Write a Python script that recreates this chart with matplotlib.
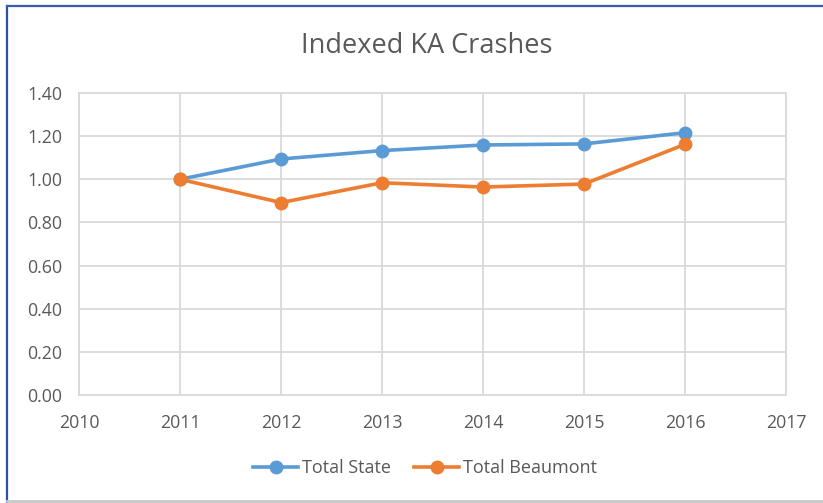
import matplotlib
matplotlib.use("Agg")
import matplotlib.pyplot as plt
from matplotlib.lines import Line2D

years = [2011, 2012, 2013, 2014, 2015, 2016]
total_state = [1.00, 1.094, 1.133, 1.159, 1.164, 1.216]
total_beaumont = [1.00, 0.892, 0.984, 0.964, 0.978, 1.162]
x_ticks = [2010, 2011, 2012, 2013, 2014, 2015, 2016, 2017]
y_ticks = [0.0, 0.2, 0.4, 0.6, 0.8, 1.0, 1.2, 1.4]

W, H = 823, 503
fig = plt.figure(figsize=(W / 100, H / 100), dpi=100)
plt.rcParams['font.family'] = ['Open Sans', 'DejaVu Sans']

left, right, top, bottom = 79, 786, 93, 395
ax = fig.add_axes([left / W, 1 - bottom / H, (right - left) / W, (bottom - top) / H])

txt = '#595959'
grid = '#d9d9d9'
ax.plot(years, total_state, color='#5B9BD5', lw=2.6, marker='o', ms=9, label='Total State', zorder=3)
ax.plot(years, total_beaumont, color='#ED7D31', lw=2.6, marker='o', ms=9, label='Total Beaumont', zorder=3)

ax.set_xlim(2010, 2017)
ax.set_ylim(0, 1.4)
ax.set_xticks(x_ticks)
ax.set_xticklabels([str(v) for v in x_ticks])
ax.set_yticks(y_ticks)
ax.set_yticklabels([f'{v:.2f}' for v in y_ticks])
ax.grid(True, color=grid, lw=1.3)
ax.set_axisbelow(True)
for s in ax.spines.values():
    s.set_color(grid)
    s.set_linewidth(1.3)
ax.tick_params(length=0, labelsize=12.8, labelcolor=txt)
ax.tick_params(axis='x', pad=14)
ax.tick_params(axis='y', pad=12)

fig.text(427 / W, 1 - 46 / H, 'Indexed KA Crashes', ha='center', va='center', fontsize=19.5, color=txt)

leg = fig.legend(loc='center', bbox_to_anchor=(425 / W, 1 - 468 / H), ncol=2, frameon=False,
                 fontsize=13, handlelength=2.5, columnspacing=1.3, handletextpad=0.2)
for t in leg.get_texts():
    t.set_color(txt)

# outer frame
fig.add_artist(Line2D([7 / W, 7 / W], [0, 1 - 6 / H], color='#2F4FA0', lw=1.6, transform=fig.transFigure))
fig.add_artist(Line2D([7 / W, 1], [1 - 6 / H, 1 - 6 / H], color='#3A5BB0', lw=1.6, transform=fig.transFigure))
fig.add_artist(Line2D([7 / W, 1], [1 - 501 / H, 1 - 501 / H], color='#c8c8c8', lw=2, transform=fig.transFigure))

fig.savefig('out.png', dpi=100)
